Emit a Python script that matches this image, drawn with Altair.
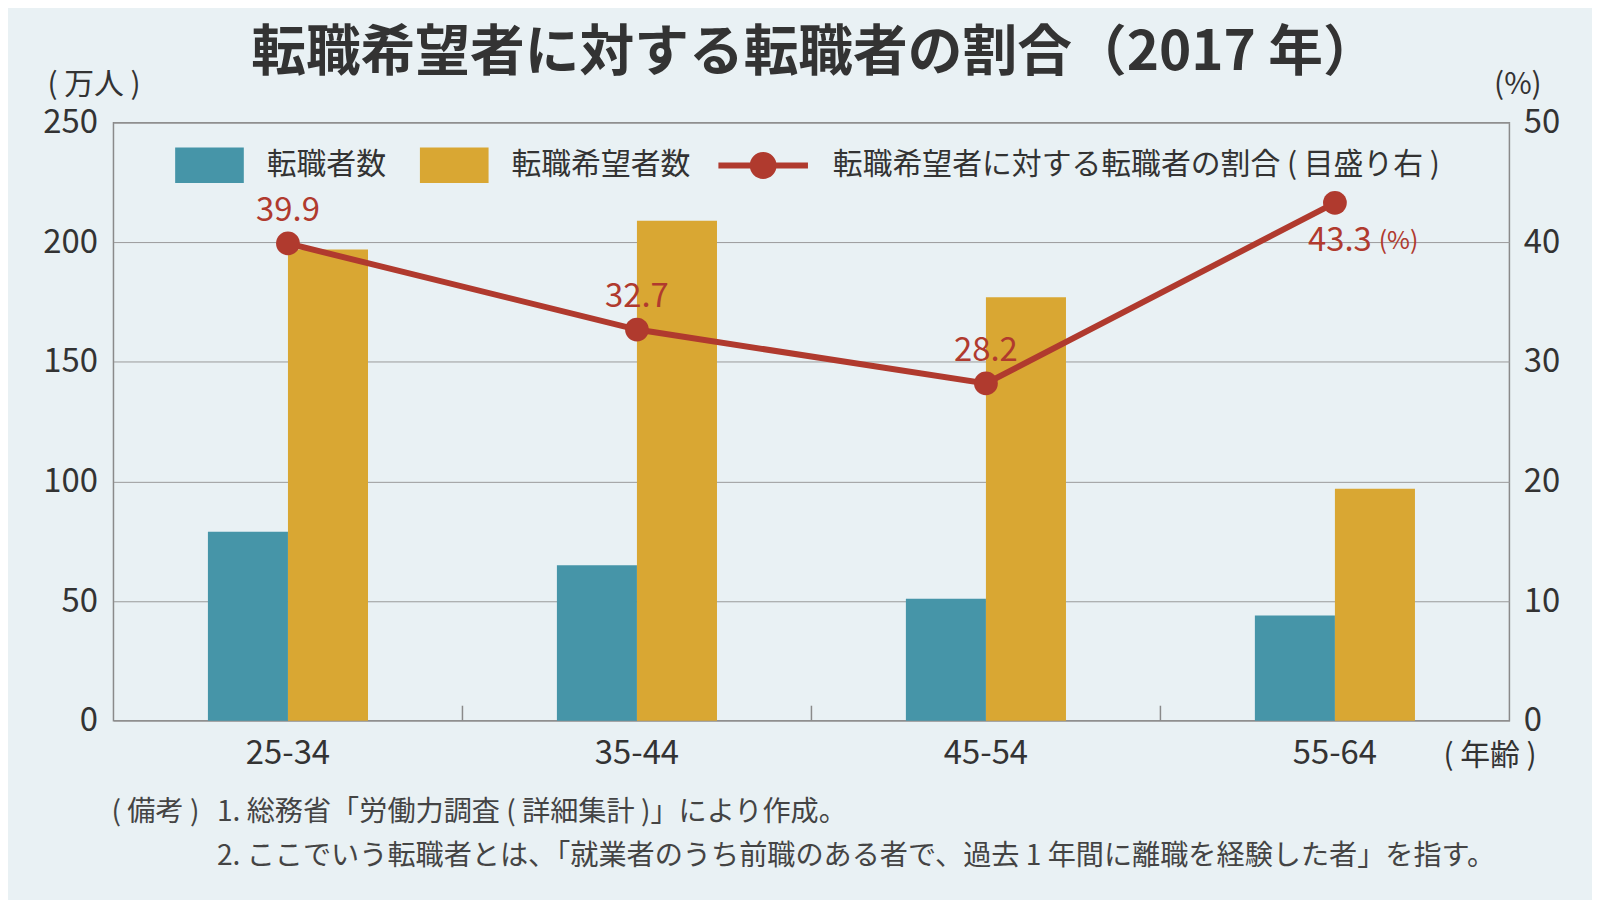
import altair as alt
import pandas as pd

# ---- data ----
ages = ["25-34", "35-44", "45-54", "55-64"]
changers = [79, 65, 51, 44]            # 転職者数 (万人)
hopefuls = [197, 209, 177, 97]         # 転職希望者数 (万人)
ratio = [39.9, 32.7, 28.2, 43.3]       # 転職希望者に対する転職者の割合 (%)
series_bars = ["転職者数", "転職希望者数"]
series_line = "転職希望者に対する転職者の割合 ( 目盛り右 )"
left_ticks = [0, 50, 100, 150, 200, 250]
right_ticks = [0, 10, 20, 30, 40, 50]
title_text = "転職希望者に対する転職者の割合（2017 年）"
note_head = "( 備考 )"
note_1 = "1. 総務省「労働力調査 ( 詳細集計 )」により作成。"
note_2 = "2. ここでいう転職者とは、「就業者のうち前職のある者で、過去 1 年間に離職を経験した者」を指す。"

TEAL = "#4695A8"
GOLD = "#D9A733"
RED = "#B03A2E"
BG = "#E9F1F4"
INK = "#333333"
FRAME = "#8a8a8a"
FONT = "Noto Sans CJK JP"

W, H = 1403, 601

bars_df = pd.DataFrame({
    "age": ages * 2,
    "series": [series_bars[0]] * len(ages) + [series_bars[1]] * len(ages),
    "value": changers + hopefuls,
})
line_df = pd.DataFrame({
    "age": ages,
    "ratio": ratio,
    "series": [series_line] * len(ages),
    "label": [f"{r:.1f}" for r in ratio],
})

x_scale = alt.Scale(domain=ages, paddingInner=0, paddingOuter=0)
x_axis = alt.Axis(
    title="( 年齢 )", titleX=1383, titleY=35, titleAlign="center", titleBaseline="middle",
    titleFontSize=30, titleFontWeight="normal", titleColor=INK,
    labelAngle=0, labelFontSize=33, labelColor=INK, labelPadding=17,
    ticks=False, domain=False, grid=False,
)
x_enc = alt.X("age:N", scale=x_scale, axis=x_axis, sort=ages)

left_axis = alt.Axis(
    title="( 万人 )", titleAngle=0, titleX=-20, titleY=-38, titleAlign="center",
    titleBaseline="middle", titleFontSize=30, titleFontWeight="normal", titleColor=INK,
    values=left_ticks, labelFontSize=33, labelColor=INK, labelPadding=16,
    ticks=False, domain=False, grid=True, gridColor="#9a9a9a", gridWidth=1,
)
right_axis = alt.Axis(
    title="(%)", titleAngle=0, titleX=8, titleY=-38, titleAlign="center",
    titleBaseline="middle", titleFontSize=30, titleFontWeight="normal", titleColor=INK,
    orient="right", values=right_ticks, labelFontSize=33, labelColor=INK, labelPadding=14,
    ticks=False, domain=False, grid=False,
)
y_left = alt.Y("value:Q", scale=alt.Scale(domain=[0, 250]), axis=left_axis)
y_right = alt.Y("ratio:Q", scale=alt.Scale(domain=[0, 50]), axis=right_axis)

# offset slots: an empty slot either side keeps the pair narrow inside each band
offset_domain = ["_l"] + series_bars + ["_r"]

bars = alt.Chart(bars_df).mark_bar(opacity=1).encode(
    x=x_enc,
    xOffset=alt.XOffset("series:N", scale=alt.Scale(domain=offset_domain, paddingInner=0, paddingOuter=0.18)),
    y=y_left,
    color=alt.Color(
        "series:N",
        scale=alt.Scale(domain=series_bars, range=[TEAL, GOLD]),
        legend=alt.Legend(
            orient="none", legendX=62, legendY=8, direction="horizontal", title=None,
            symbolType="M-1,-0.52H1V0.52H-1Z", symbolSize=4761, symbolStrokeWidth=0,
            labelFontSize=30, labelColor=INK, labelOffset=23, columnPadding=34,
            padding=0, labelLimit=1000, symbolOpacity=1,
        ),
    ),
)

inner_ticks = alt.Chart(pd.DataFrame({"age": ages[1:]})).mark_rule(
    color=FRAME, strokeWidth=1.5
).encode(
    x=alt.X("age:N", scale=x_scale, axis=x_axis, sort=ages, bandPosition=0),
    y=alt.value(H),
    y2=alt.value(H - 15),
)

notes = [
    alt.Chart(pd.DataFrame({"t": [note_head]})).mark_text(
        align="left", baseline="middle", fontSize=28.3, color="#444"
    ).encode(text="t:N", x=alt.value(-2), y=alt.value(694)),
    alt.Chart(pd.DataFrame({"t": [note_1]})).mark_text(
        align="left", baseline="middle", fontSize=28.3, color="#444"
    ).encode(text="t:N", x=alt.value(104), y=alt.value(694)),
    alt.Chart(pd.DataFrame({"t": [note_2]})).mark_text(
        align="left", baseline="middle", fontSize=28.3, color="#444"
    ).encode(text="t:N", x=alt.value(104), y=alt.value(738)),
]

left = alt.layer(bars, inner_ticks, *notes)

base_line = alt.Chart(line_df)
line = base_line.mark_line(color=RED, strokeWidth=6).encode(x=x_enc, y=y_right)
line_path = ("M-1,-0.067H-0.29V0.067H-1Z M0.29,-0.067H1V0.067H0.29Z "
             "M-0.3,0A0.3,0.3 0 1,1 0.3,0A0.3,0.3 0 1,1 -0.3,0Z")
dots = base_line.mark_circle(size=570, opacity=1).encode(
    x=x_enc, y=y_right,
    color=alt.Color(
        "series:N",
        scale=alt.Scale(domain=[series_line], range=[RED]),
        legend=alt.Legend(
            orient="none", legendX=608, legendY=-2, direction="horizontal", title=None,
            symbolType=line_path, symbolSize=8100, symbolStrokeWidth=0,
            labelFontSize=30, labelColor=INK, labelOffset=25, padding=0,
            labelLimit=1000, symbolOpacity=1,
        ),
    ),
)
lab_above = base_line.transform_filter(
    alt.FieldOneOfPredicate(field="age", oneOf=ages[:3])
).mark_text(dy=-33, fontSize=33, color=RED, baseline="middle").encode(
    x=x_enc, y=y_right, text="label:N"
)
lab_below = base_line.transform_filter(
    alt.FieldEqualPredicate(field="age", equal=ages[3])
).mark_text(dy=38, dx=-27, align="left", fontSize=33, color=RED, baseline="middle").encode(
    x=x_enc, y=y_right, text="label:N"
)
lab_pct = base_line.transform_filter(
    alt.FieldEqualPredicate(field="age", equal=ages[3])
).mark_text(dy=38, dx=44, align="left", fontSize=25, color=RED, baseline="middle", text="(%)").encode(
    x=x_enc, y=y_right
)

right = alt.layer(line, dots, lab_above, lab_below, lab_pct)

chart = alt.layer(left, right).resolve_scale(
    y="independent", color="independent"
).properties(
    width=W, height=H,
    title=alt.TitleParams(
        title_text, fontSize=55, fontWeight="bold", color=INK, anchor="middle",
        offset=-12, dx=3, font=FONT,
    ),
    autosize=alt.AutoSizeParams(type="none"),
    padding={"left": 106, "top": 113, "right": 83, "bottom": 178},
).configure(
    font=FONT, background=BG,
).configure_view(
    stroke=FRAME, strokeWidth=1.5,
)

chart.save("out.html", embed_options={"renderer": "svg", "actions": False})
